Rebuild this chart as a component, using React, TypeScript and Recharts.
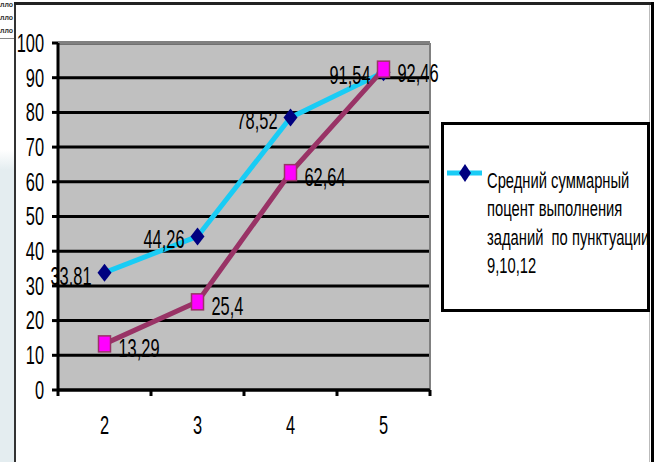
import React from 'react';
import { LineChart, Line, XAxis, YAxis, CartesianGrid, Legend, LabelList, ReferenceLine } from 'recharts';

const categories = [2, 3, 4, 5];
const seriesAValues = [33.81, 44.26, 78.52, 91.54];
const seriesBValues = [13.29, 25.4, 62.64, 92.46];
const seriesALabels = ['33.81', '44,26', '78,52', '91,54'];
const seriesBLabels = ['13,29', '25,4', '62,64', '92,46'];
const yTicks = [0, 10, 20, 30, 40, 50, 60, 70, 80, 90, 100];
const xTicks = [1.5, 2, 2.5, 3, 3.5, 4, 4.5, 5, 5.5];
const seriesAName = 'Средний суммарный поцент выполнения заданий  по пунктуации 9,10,12';
const seriesBName = 'Ряд 2';
const legendLines = ['Средний суммарный', 'поцент выполнения', 'заданий  по пунктуации', '9,10,12'];
const cornerTexts = ['лло', 'лло', 'лло'];

const data = categories.map((c, i) => ({
  x: c,
  a: seriesAValues[i],
  b: seriesBValues[i],
  la: seriesALabels[i],
  lb: seriesBLabels[i],
}));

const FONT = '"Liberation Sans", Arial, sans-serif';
const SX = 0.82;
const SY = 1.25;

const NText = ({ x, y, anchor = 'start', size = 20, children }: any) => (
  <text
    transform={`translate(${x},${y}) scale(${SX},${SY})`}
    x={0}
    y={0}
    textAnchor={anchor}
    dominantBaseline="central"
    fontFamily={FONT}
    fontSize={size}
    fill="#000"
  >
    {children}
  </text>
);

const Diamond = (p: any) => {
  const { cx, cy } = p;
  if (cx == null || cy == null) return null;
  return <polygon points={`${cx},${cy - 9} ${cx + 7},${cy} ${cx},${cy + 9} ${cx - 7},${cy}`} fill="#000080" />;
};

const Square = (p: any) => {
  const { cx, cy } = p;
  if (cx == null || cy == null) return null;
  return <rect x={cx - 6} y={cy - 8} width={12} height={16} fill="#FF00FF" stroke="#993366" strokeWidth={1.5} />;
};

const XTick = (p: any) => {
  const { x, y, payload } = p;
  const v = payload.value;
  if (Number.isInteger(v)) {
    return <NText x={x} y={y + 35} anchor="middle">{v}</NText>;
  }
  return <line x1={x} y1={y} x2={x} y2={y + 6} stroke="#000" strokeWidth={3} />;
};

const YTick = (p: any) => {
  const { x, y, payload } = p;
  return <NText x={x} y={y} anchor="end">{payload.value}</NText>;
};

const LegendContent = () => (
  <svg width={209} height={190} style={{ display: 'block' }}>
    <rect x={1.5} y={1.5} width={206} height={187} fill="#fff" stroke="#000" strokeWidth={3} />
    <line x1={6} y1={51} x2={41} y2={51} stroke="#19CCF5" strokeWidth={5} />
    <polygon points="24,42 30,51 24,60 18,51" fill="#000080" />
    {legendLines.map((l, i) => (
      <text
        key={i}
        transform={`translate(46,${58 + i * 28.5}) scale(${SX},${SY})`}
        x={0}
        y={0}
        dominantBaseline="central"
        fontFamily={FONT}
        fontSize={18}
        fill="#000"
        style={{ whiteSpace: 'pre' }}
      >
        {l}
      </text>
    ))}
  </svg>
);

export default function App() {
  return (
    <div style={{ position: 'absolute', left: 0, top: 0, width: 654, height: 462, background: '#fff', overflow: 'hidden' }}>
      <div style={{ position: 'absolute', left: 0, top: 0, width: 15, height: 462, background: 'linear-gradient(to bottom, #ffffff 0px, #ffffff 150px, #e4edf0 170px, #e4edf0 462px)' }} />
      {cornerTexts.map((t, i) => (
        <div key={i} style={{ position: 'absolute', left: 0, top: i * 13, width: 14, fontFamily: FONT, fontSize: 7, lineHeight: '10px', fontWeight: 'bold', color: '#333', whiteSpace: 'nowrap' }}>
          {t}
        </div>
      ))}
      <div style={{ position: 'absolute', left: 0, top: 38, width: 14, height: 1, background: '#888' }} />
      <div style={{ position: 'absolute', left: 14, top: 2, width: 2, height: 460, background: '#333' }} />
      <div style={{ position: 'absolute', left: 14, top: 2, width: 640, height: 3, background: '#222' }} />
      <div style={{ position: 'absolute', left: 651, top: 2, width: 3, height: 460, background: '#000' }} />
      <div style={{ position: 'absolute', left: 649, top: 5, width: 1, height: 457, background: '#bbb' }} />
      <div style={{ position: 'absolute', left: 0, top: 0 }}>
        <LineChart width={654} height={462} data={data} margin={{ top: 43, right: 224, bottom: 42, left: 18 }}>
          <CartesianGrid vertical={false} stroke="#000" strokeWidth={3} fill="#C0C0C0" fillOpacity={1} />
          <XAxis
            dataKey="x"
            type="number"
            domain={[1.5, 5.5]}
            ticks={xTicks}
            interval={0}
            height={30}
            tickSize={0}
            tickMargin={0}
            tickLine={false}
            axisLine={{ stroke: '#000', strokeWidth: 3 }}
            tick={<XTick />}
          />
          <YAxis
            domain={[0, 100]}
            ticks={yTicks}
            interval={0}
            width={40}
            tickSize={6}
            tickMargin={8}
            axisLine={{ stroke: '#000', strokeWidth: 3 }}
            tickLine={{ stroke: '#000', strokeWidth: 3 }}
            tick={<YTick />}
          />
          <ReferenceLine y={100} stroke="#808080" strokeWidth={3} />
          <ReferenceLine x={5.5} stroke="#808080" strokeWidth={2} />
          <Line
            dataKey="a"
            name={seriesAName}
            stroke="#19CCF5"
            strokeWidth={5}
            dot={<Diamond />}
            activeDot={false}
            isAnimationActive={false}
          >
            <LabelList
              dataKey="la"
              content={(p: any) => <NText x={p.x - 13} y={p.y + 3} anchor="end">{p.value}</NText>}
            />
          </Line>
          <Line
            dataKey="b"
            name={seriesBName}
            stroke="#993366"
            strokeWidth={5}
            dot={<Square />}
            activeDot={false}
            isAnimationActive={false}
          >
            <LabelList
              dataKey="lb"
              content={(p: any) => <NText x={p.x + 14} y={p.y + 4} anchor="start">{p.value}</NText>}
            />
          </Line>
          <Legend
            layout="horizontal"
            verticalAlign="middle"
            align="center"
            content={<LegendContent />}
            wrapperStyle={{ position: 'absolute', left: 441, top: 122, width: 209, height: 190 }}
          />
        </LineChart>
      </div>
    </div>
  );
}
